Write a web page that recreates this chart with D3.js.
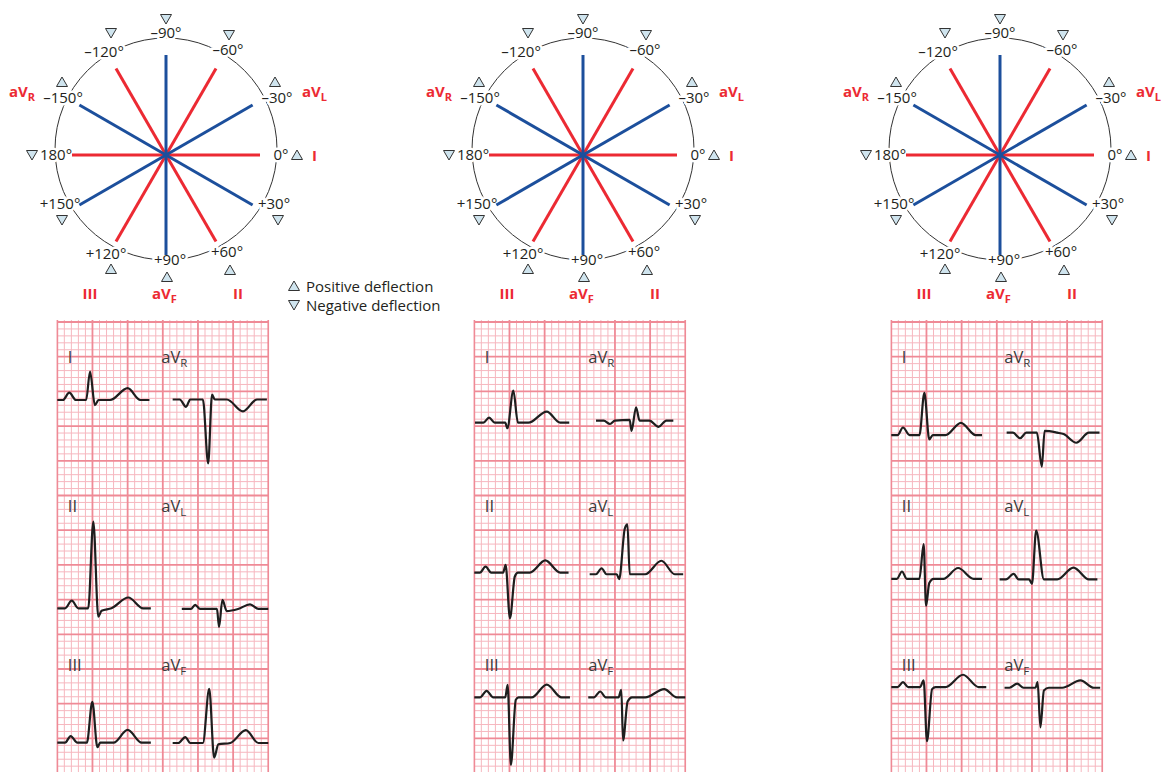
<!DOCTYPE html>
<html>
<head>
<meta charset="utf-8">
<title>Hexaxial reference and limb leads</title>
<script src="https://cdn.jsdelivr.net/npm/d3@7"></script>
<style>
	body { margin: 0; background: #fff; }
	text { font-family: "Open Sans", "DejaVu Sans", sans-serif; fill: #231f20; }
	.deg { font-size: 15px; }
	.lead { font-size: 15px; font-weight: bold; fill: #ec2a33; }
	.ecglab { font-size: 16.5px; fill: #3a3a3a; }
	.legend { font-size: 15px; }
	.gray { opacity: 0.999; }
</style>
</head>
<body>
<svg id="chart" width="1166" height="772"></svg>
<script>
// ---- hexaxial data ----
var angles = [-90, -60, -30, 0, 30, 60, 90, 120, 150, 180, -150, -120];
var angleLabels = ['\u201390°', '\u201360°', '\u201330°', '0°', '+30°', '+60°', '+90°', '+120°', '+150°', '180°', '\u2013150°', '\u2013120°'];
var positivePoles = [-30, 0, 60, 90, 120, -150];
var bipolarLeads = [{ name: 'I', angle: 0 }, { name: 'II', angle: 60 }, { name: 'III', angle: 120 }];
var augmentedLeads = [{ name: 'R', angle: -150 }, { name: 'L', angle: -30 }, { name: 'F', angle: 90 }];

// ---- ECG data: [time in mm, amplitude in mm] ----
var leadNames = ['I', 'aVR', 'II', 'aVL', 'III', 'aVF'];

var ecg1 = [
	[[0,0],[0.8,0],[1.7,1.05],[2.65,0],[4.1,0],[4.65,4.1],[5.35,-0.75],[5.85,0],[7.5,0],[10.0,1.7],[11.8,0],[13.1,0]],
	[[16.4,0],[17.4,0],[18.3,-1.05],[18.9,0],[20.7,0],[21.45,-9.2],[22.0,0.7],[22.4,0],[24.1,0],[26.4,-1.7],[28.4,0],[29.8,0]],
	[[0,0],[1.1,0],[2.05,1.1],[3.0,0],[4.4,0],[5.12,12.5],[5.83,-1.2],[6.3,-0.35],[7.7,0],[10.1,1.55],[12.2,0],[13.3,0]],
	[[17.7,0],[19.0,0],[19.6,0.6],[20.3,0],[22.7,0],[23.0,-2.6],[23.47,1.3],[24.1,-0.3],[25.7,0],[27.4,0.65],[28.6,0],[30,0]],
	[[0,0],[1.1,0],[1.9,0.95],[2.85,0],[4.2,0],[4.98,5.9],[5.7,-0.65],[6.1,0],[8.0,0],[10.0,1.85],[12.0,0],[13.3,0]],
	[[16.4,0],[17.2,0],[18.2,0.85],[18.9,0],[20.7,0],[21.6,7.8],[22.3,-2.1],[22.9,-0.2],[24.6,0],[26.8,1.85],[28.6,0],[30,0]]
];
var ecg2 = [
	[[0.1,0],[1.3,0],[2.1,0.72],[2.9,0],[4.4,0],[4.7,-0.8],[5.55,4.6],[6.2,0],[7.7,0],[10.3,1.6],[12.2,0],[13.5,0]],
	[[17.3,0],[18.4,0],[19.3,-0.5],[20.0,0],[22.1,0.1],[22.35,-1.5],[23.0,1.9],[23.5,0],[24.9,0],[26.2,-0.9],[27.3,0],[28.3,0]],
	[[0,0],[0.8,0],[1.6,0.86],[2.4,0],[4.1,0],[4.45,1.1],[5.07,-6.6],[5.76,-0.57],[6.2,0],[7.9,0],[10.1,1.75],[12.2,0],[13.4,0]],
	[[16.4,0],[17.3,0],[18.1,0.86],[18.8,0],[20.25,0],[20.6,-0.72],[21.4,6.6],[21.77,7.2],[22.1,0],[24.3,0],[26.6,1.95],[28.5,0],[29.7,0]],
	[[0,0],[0.8,0],[1.75,0.95],[2.7,0],[4.4,0],[4.74,1.8],[5.2,-9.7],[5.9,-0.33],[6.3,0],[8.15,0],[10.3,1.85],[12.4,0],[13.6,0]],
	[[16.2,0],[17.0,0],[17.9,0.86],[18.7,0],[20.5,0],[20.9,1.1],[21.15,-6.2],[21.8,-0.6],[22.4,0],[24.3,0],[27.0,1.2],[28.8,0],[30,0]]
];
var ecg3 = [
	[[0,0],[0.9,0],[1.66,1.1],[2.6,0],[4.0,0],[4.7,6.1],[5.4,-0.62],[5.9,0],[7.7,0],[9.9,1.77],[12.0,0],[12.9,0]],
	[[16.4,0],[17.3,0],[18.3,-0.8],[19.2,0],[20.7,0],[21.4,-4.9],[21.8,0.25],[23.6,0],[24.5,-0.2],[26.3,-1.45],[28.1,0],[29.6,0]],
	[[0,0],[0.8,0],[1.52,1.05],[2.2,0],[4.0,0],[4.6,5.0],[4.94,-3.9],[5.4,-0.62],[6.0,0],[7.4,0],[9.5,1.55],[11.7,0],[12.9,0]],
	[[15.4,0],[16.3,0],[17.4,0.82],[18.1,0],[19.6,0],[20.0,-0.62],[20.6,7.06],[21.7,0],[23.6,0],[25.9,1.7],[28.1,0],[29.3,0]],
	[[0,0],[0.9,0],[1.66,0.72],[2.4,0],[4.1,0],[4.6,0.96],[5.07,-7.8],[5.8,-0.3],[6.3,0],[7.7,0],[10.2,1.77],[12.4,0],[13.5,0]],
	[[16.1,0],[16.8,0],[17.9,0.58],[18.8,0],[20.5,0],[20.8,0.8],[21.2,-5.7],[21.7,-0.4],[22.4,0],[24.3,0],[26.9,1.05],[28.8,0],[29.7,0]]
];
// isoelectric line of each lead, mm below the top grid line
var baselines1 = [11.24, 11.17, 41.25, 41.35, 60.62, 60.66];
var baselines2 = [14.5, 14.2, 36.1, 36.35, 54.1, 54.1];
var baselines3 = [16.3, 15.95, 37.0, 37.1, 52.6, 52.7];

var panels = [
	{ cx: 166, traces: ecg1, baselines: baselines1, col2: 104 },
	{ cx: 583, traces: ecg2, baselines: baselines2, col2: 114 },
	{ cx: 1000, traces: ecg3, baselines: baselines3, col2: 113 }
];

var svg = d3.select('#chart');
var red = '#ec2a33', blue = '#1c4f9c';

// label and triangle offsets from the axis origin, per angle
var labelOffset = {
	'-90': [0, -122], '-60': [62, -105], '-30': [111, -57], '0': [115, 0],
	'30': [108, 49], '60': [61, 97], '90': [4, 105], '120': [-60, 99],
	'150': [-106, 49], '180': [-110, 0], '-150': [-103, -57], '-120': [-62, -103]
};
var triOffset = {
	'-90': [0, -136], '-60': [63, -120], '-30': [109, -73], '0': [131, 0],
	'30': [112, 65], '60': [64, 115], '90': [1, 122], '120': [-55, 114],
	'150': [-104, 65], '180': [-134, 0], '-150': [-104, -73], '-120': [-55, -122]
};

function triangle(g, x, y, up) {
	var p = up ? 'M-5.5,4.5L5.5,4.5L0,-5Z' : 'M-5.5,-4.5L5.5,-4.5L0,5Z';
	g.append('path')
		.attr('d', p)
		.attr('transform', 'translate(' + x + ',' + y + ')')
		.attr('fill', '#cfe4ee')
		.attr('stroke', '#333')
		.attr('stroke-width', 1);
}

function drawHex(cx, cy) {
	var g = svg.append('g').attr('class', 'gray');
	var rad = d3.scaleLinear().domain([0, 180]).range([0, Math.PI]);

	g.append('circle')
		.attr('cx', cx).attr('cy', cy - 6).attr('r', 111)
		.attr('fill', 'none').attr('stroke', '#333').attr('stroke-width', 1);

	// degree labels (white halo hides the circle behind them)
	angles.forEach(function(a, i) {
		var o = labelOffset[a];
		g.append('text')
			.attr('class', 'deg')
			.attr('x', cx + o[0]).attr('y', cy + o[1])
			.attr('dy', '0.36em')
			.attr('text-anchor', 'middle')
			.attr('stroke', '#fff').attr('stroke-width', 5)
			.attr('paint-order', 'stroke')
			.text(angleLabels[i]);
		var t = triOffset[a];
		triangle(g, cx + t[0], cy + t[1], positivePoles.indexOf(a) >= 0);
	});

	// lead axes
	function axis(a, color) {
		var r = (a % 180 === 0) ? 94 : 100;
		var dx = r * Math.cos(rad(a)), dy = r * Math.sin(rad(a));
		g.append('line')
			.attr('x1', cx - dx).attr('y1', cy - dy)
			.attr('x2', cx + dx).attr('y2', cy + dy)
			.attr('stroke', color).attr('stroke-width', 3);
	}
	bipolarLeads.forEach(function(d) { axis(d.angle, red); });
	augmentedLeads.forEach(function(d) { axis(d.angle, blue); });

	// lead names
	function aV(x, y, sub) {
		var t = g.append('text').attr('class', 'lead').attr('x', x).attr('y', y);
		t.append('tspan').text('aV');
		t.append('tspan').attr('font-size', '11px').attr('dy', 4).text(sub);
	}
	aV(cx - 157, cy - 58, 'R');
	aV(cx + 136, cy - 58, 'L');
	aV(cx - 14, cy + 144, 'F');
	g.append('text').attr('class', 'lead').attr('x', cx + 146).attr('y', cy + 6).text('I');
	g.append('text').attr('class', 'lead').attr('x', cx - 76).attr('y', cy + 144).attr('text-anchor', 'middle').text('III');
	g.append('text').attr('class', 'lead').attr('x', cx + 72).attr('y', cy + 144).attr('text-anchor', 'middle').text('II');
}

function drawEcg(p) {
	var x0 = p.cx - 108.7;
	var x = d3.scaleLinear().domain([0, 30]).range([x0, x0 + 211]);
	var y = d3.scaleLinear().domain([0, 65]).range([322, 322 + 65 * 6.94]);
	var g = svg.append('g').attr('class', 'gray');

	var clipId = 'clip' + p.cx;
	svg.append('clipPath').attr('id', clipId)
		.append('rect').attr('x', x0 - 1).attr('y', 320).attr('width', 213).attr('height', 452);

	var grid = g.append('g').attr('clip-path', 'url(#' + clipId + ')');
	var vs = d3.range(0, 31), hs = d3.range(0, 66);
	// minor first, major on top
	grid.selectAll('.vmin').data(vs.filter(function(d) { return d % 5; })).enter().append('line')
		.attr('x1', x).attr('x2', x).attr('y1', 320).attr('y2', 772)
		.attr('stroke', '#f6b7bf').attr('stroke-width', 1);
	grid.selectAll('.hmin').data(hs.filter(function(d) { return d % 5; })).enter().append('line')
		.attr('y1', y).attr('y2', y).attr('x1', x0).attr('x2', x0 + 211)
		.attr('stroke', '#f6b7bf').attr('stroke-width', 1);
	grid.selectAll('.vmaj').data(vs.filter(function(d) { return d % 5 === 0; })).enter().append('line')
		.attr('x1', x).attr('x2', x).attr('y1', 320).attr('y2', 772)
		.attr('stroke', '#ef8a96').attr('stroke-width', 1.8);
	grid.selectAll('.hmaj').data(hs.filter(function(d) { return d % 5 === 0; })).enter().append('line')
		.attr('y1', y).attr('y2', y).attr('x1', x0).attr('x2', x0 + 211)
		.attr('stroke', '#ef8a96').attr('stroke-width', 1.8);

	// lead labels
	var rowY = [363, 512, 671];
	leadNames.forEach(function(name, i) {
		var lx = (i % 2 === 0) ? x0 + 10.5 : x0 + p.col2;
		var t = g.append('text').attr('class', 'ecglab').attr('x', lx).attr('y', rowY[Math.floor(i / 2)]);
		if (name.indexOf('aV') === 0) {
			t.append('tspan').text('aV');
			t.append('tspan').attr('font-size', '11.5px').attr('dy', 4).text(name.slice(2));
		} else {
			t.text(name);
		}
	});

	// traces
	p.traces.forEach(function(tr, i) {
		var base = p.baselines[i];
		var line = d3.line()
			.x(function(d) { return x(d[0]); })
			.y(function(d) { return y(base - d[1]); })
			.curve(d3.curveMonotoneX);
		g.append('path')
			.attr('d', line(tr))
			.attr('fill', 'none')
			.attr('stroke', '#1e1e1e')
			.attr('stroke-width', 2.2)
			.attr('stroke-linejoin', 'round');
	});
}

panels.forEach(function(p) {
	drawHex(p.cx, 155);
	drawEcg(p);
});

// legend
var lg = svg.append('g').attr('class', 'gray');
triangle(lg, 294, 286, true);
triangle(lg, 294, 305, false);
lg.append('text').attr('class', 'legend').attr('x', 306).attr('y', 292).text('Positive deflection');
lg.append('text').attr('class', 'legend').attr('x', 306).attr('y', 311).text('Negative deflection');
</script>
</body>
</html>
